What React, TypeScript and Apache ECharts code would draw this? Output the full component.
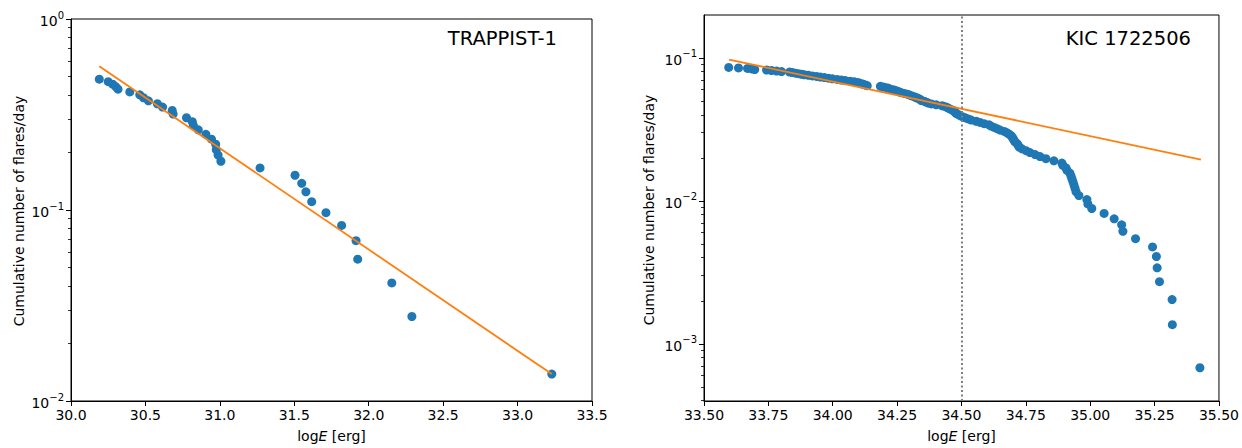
import React, { useEffect, useRef } from "react";
import * as echarts from "echarts";

// ---------- data ----------
const leftX = [
  30.19, 30.25, 30.28, 30.3, 30.316, 30.395, 30.462, 30.487, 30.52, 30.58,
  30.615, 30.68, 30.686, 30.776, 30.815, 30.822, 30.855, 30.906, 30.944, 30.972,
  30.976, 30.988, 31.007, 31.27, 31.505, 31.55, 31.578, 31.617, 31.713, 31.818,
  31.915, 31.926, 32.155, 32.29, 33.23,
];
const leftY = [
  0.484, 0.47, 0.456, 0.443, 0.429, 0.415, 0.401, 0.387, 0.373, 0.36,
  0.346, 0.332, 0.318, 0.304, 0.29, 0.277, 0.263, 0.249, 0.235, 0.221,
  0.207, 0.194, 0.18, 0.166, 0.152, 0.138, 0.1245, 0.1106, 0.0968, 0.083,
  0.0691, 0.0553, 0.0415, 0.0277, 0.01383,
];
const leftFitX = [30.19, 33.23];
const leftFitY = [0.566, 0.01383];

const rightX = [
  33.596, 33.634, 33.669, 33.685, 33.697, 33.743, 33.762, 33.782, 33.801, 33.832,
  33.844, 33.855, 33.867, 33.879, 33.89, 33.906, 33.921, 33.937, 33.952, 33.968,
  33.983, 33.999, 34.017, 34.033, 34.049, 34.068, 34.084, 34.096, 34.104, 34.111,
  34.119, 34.127, 34.134, 34.185, 34.196, 34.208, 34.216, 34.223, 34.235, 34.243,
  34.251, 34.259, 34.266, 34.278, 34.29, 34.297, 34.305, 34.313, 34.321, 34.328,
  34.336, 34.34, 34.344, 34.356, 34.363, 34.371, 34.383, 34.402, 34.425, 34.437,
  34.445, 34.452, 34.46, 34.468, 34.472, 34.476, 34.48, 34.488, 34.495, 34.503,
  34.515, 34.526, 34.538, 34.557, 34.572, 34.588, 34.607, 34.615, 34.627, 34.638,
  34.65, 34.666, 34.677, 34.685, 34.693, 34.697, 34.701, 34.704, 34.708, 34.716,
  34.72, 34.724, 34.735, 34.751, 34.766, 34.786, 34.805, 34.828, 34.859, 34.89,
  34.894, 34.906, 34.91, 34.921, 34.925, 34.929, 34.933, 34.937, 34.941, 34.945,
  34.956, 34.987, 34.991, 35.006, 35.054, 35.093, 35.122, 35.127, 35.176, 35.242,
  35.257, 35.26, 35.269, 35.318, 35.319, 35.426,
];
const rightY = [
  0.08568, 0.085, 0.08432, 0.08364, 0.08296, 0.08228, 0.0816, 0.08092, 0.08024, 0.07956,
  0.07888, 0.0782, 0.07752, 0.07684, 0.07616, 0.07548, 0.0748, 0.07412, 0.07344, 0.07276,
  0.07208, 0.0714, 0.07072, 0.07004, 0.06936, 0.06868, 0.068, 0.06732, 0.06664, 0.06596,
  0.06528, 0.0646, 0.06392, 0.06324, 0.06256, 0.06188, 0.0612, 0.06052, 0.05984, 0.05916,
  0.05848, 0.0578, 0.05712, 0.05644, 0.05576, 0.05508, 0.0544, 0.05372, 0.05304, 0.05236,
  0.05168, 0.051, 0.05032, 0.04964, 0.04896, 0.04828, 0.0476, 0.04692, 0.04624, 0.04556,
  0.04488, 0.0442, 0.04352, 0.04284, 0.04216, 0.04148, 0.0408, 0.04012, 0.03944, 0.03876,
  0.03808, 0.0374, 0.03672, 0.03604, 0.03536, 0.03468, 0.034, 0.03332, 0.03264, 0.03196,
  0.03128, 0.0306, 0.02992, 0.02924, 0.02856, 0.02788, 0.0272, 0.02652, 0.02584, 0.02516,
  0.02448, 0.0238, 0.02312, 0.02244, 0.02176, 0.02108, 0.0204, 0.01972, 0.01904, 0.01836,
  0.01768, 0.017, 0.01632, 0.01564, 0.01496, 0.01428, 0.0136, 0.01292, 0.01224, 0.01156,
  0.01088, 0.0102, 0.00952, 0.00884, 0.00816, 0.00748, 0.0068, 0.00612, 0.00544, 0.00476,
  0.00408, 0.0034, 0.00272, 0.00204, 0.00136, 0.00068,
];
const rightFitX = [33.597, 35.43];
const rightFitY = [0.0973, 0.01945];
const thresholdX = 34.5;

const leftYMajor = [0.01, 0.1, 1];
const leftYMinor = [
  0.02, 0.03, 0.04, 0.05, 0.06, 0.07, 0.08, 0.09,
  0.2, 0.3, 0.4, 0.5, 0.6, 0.7, 0.8, 0.9,
];
const rightYMajor = [0.001, 0.01, 0.1];
const rightYMinor = [
  0.0004, 0.0005, 0.0006, 0.0007, 0.0008, 0.0009,
  0.002, 0.003, 0.004, 0.005, 0.006, 0.007, 0.008, 0.009,
  0.02, 0.03, 0.04, 0.05, 0.06, 0.07, 0.08, 0.09,
];

const titles = ["TRAPPIST-1", "KIC 1722506"];
const yLabel = "Cumulative number of flares/day";

// ---------- styles ----------
const FONT = "DejaVu Sans";
const BLUE = "#1f77b4";
const ORANGE = "#ff7f0e";
const FS = 14;

const supRich = {
  b: { fontSize: FS, color: "#000", fontFamily: FONT, padding: [4, 0, 0, 0] },
  s: { fontSize: 10, color: "#000", fontFamily: FONT, verticalAlign: "top" },
};
const supFmt = (v: number) => {
  const e = Math.round(Math.log10(v));
  const t = e < 0 ? "\u2212" + String(-e) : String(e);
  return "{b|10}{s|" + t + "}";
};
const xName = "{n|log}{i|E}{n| [erg]}";
const xNameStyle = {
  rich: {
    n: { fontSize: FS, color: "#000", fontFamily: FONT },
    i: { fontSize: FS, color: "#000", fontFamily: FONT, fontStyle: "italic" },
  },
};

function xAxisCfg(gridIndex: number, min: number, max: number, interval: number, digits: number) {
  return {
    gridIndex,
    type: "value",
    min,
    max,
    interval,
    axisLine: { show: true, onZero: false, lineStyle: { color: "#000", width: 1 } },
    axisTick: { show: true, length: 5, lineStyle: { color: "#000", width: 1 } },
    axisLabel: {
      color: "#000",
      fontSize: FS,
      fontFamily: FONT,
      margin: 7,
      formatter: (v: number) => v.toFixed(digits),
    },
    splitLine: { show: false },
    name: xName,
    nameLocation: "middle",
    nameGap: 28,
    nameTextStyle: xNameStyle,
  };
}

function yMajorCfg(gridIndex: number, min: number, max: number, ticks: number[]) {
  return {
    gridIndex,
    type: "log",
    logBase: 10,
    min,
    max,
    position: "left",
    axisLine: { show: true, onZero: false, lineStyle: { color: "#000", width: 1 } },
    axisTick: { show: true, length: 5, customValues: ticks, lineStyle: { color: "#000", width: 1 } },
    axisLabel: {
      show: true,
      customValues: ticks,
      margin: 7,
      formatter: supFmt,
      rich: supRich,
    },
    splitLine: { show: false },
    minorTick: { show: false },
  };
}

function yMinorCfg(gridIndex: number, min: number, max: number, ticks: number[]) {
  return {
    gridIndex,
    type: "log",
    logBase: 10,
    min,
    max,
    position: "left",
    axisLine: { show: false },
    axisTick: { show: true, length: 3, customValues: ticks, lineStyle: { color: "#000", width: 0.8 } },
    axisLabel: { show: false },
    splitLine: { show: false },
  };
}

const zip = (a: number[], b: number[]) => a.map((v, i) => [v, b[i]]);

const titleFont = '19.5px "DejaVu Sans"';
const labelFont = '14px "DejaVu Sans"';

export default function App() {
  const ref = useRef<HTMLDivElement>(null);
  useEffect(() => {
    if (!ref.current) return;
    const chart = echarts.init(ref.current, null, { renderer: "svg" });
    const option: any = {
      animation: false,
      backgroundColor: "#fff",
      textStyle: { fontFamily: FONT },
      grid: [
        { left: 71, top: 19, width: 521, height: 385, show: true, borderColor: "#000", borderWidth: 1, backgroundColor: "transparent" },
        { left: 704, top: 15, width: 516, height: 390, show: true, borderColor: "#000", borderWidth: 1, backgroundColor: "transparent" },
      ],
      xAxis: [xAxisCfg(0, 30, 33.5, 0.5, 1), xAxisCfg(1, 33.5, 35.5, 0.25, 2)],
      yAxis: [
        yMajorCfg(0, 0.01, 1, leftYMajor),
        yMinorCfg(0, 0.01, 1, leftYMinor),
        yMajorCfg(1, 0.000398, 0.1995, rightYMajor),
        yMinorCfg(1, 0.000398, 0.1995, rightYMinor),
      ],
      series: [
        {
          type: "scatter",
          xAxisIndex: 0,
          yAxisIndex: 0,
          data: zip(leftX, leftY),
          symbolSize: 9,
          itemStyle: { color: BLUE, opacity: 1 },
          z: 2,
        },
        {
          type: "line",
          xAxisIndex: 0,
          yAxisIndex: 0,
          data: zip(leftFitX, leftFitY),
          showSymbol: false,
          symbol: "none",
          lineStyle: { color: ORANGE, width: 1.8 },
          z: 3,
        },
        {
          type: "scatter",
          xAxisIndex: 1,
          yAxisIndex: 2,
          data: zip(rightX, rightY),
          symbolSize: 9,
          itemStyle: { color: BLUE, opacity: 1 },
          z: 2,
        },
        {
          type: "line",
          xAxisIndex: 1,
          yAxisIndex: 2,
          data: zip(rightFitX, rightFitY),
          showSymbol: false,
          symbol: "none",
          lineStyle: { color: ORANGE, width: 1.8 },
          z: 3,
          markLine: {
            silent: true,
            symbol: ["none", "none"],
            label: { show: false },
            lineStyle: { color: "#7f7f7f", width: 2, type: [2, 2.5] },
            data: [{ xAxis: thresholdX }],
            z: 4,
          },
        },
      ],
      graphic: [
        {
          type: "text",
          right: 1242 - 557,
          top: 28,
          style: { text: titles[0], font: titleFont, fill: "#000" },
        },
        {
          type: "text",
          right: 1242 - 1191,
          top: 28,
          style: { text: titles[1], font: titleFont, fill: "#000" },
        },
        {
          type: "text",
          x: 19,
          y: 211,
          rotation: Math.PI / 2,
          style: {
            text: yLabel,
            font: labelFont,
            fill: "#000",
            align: "center",
            verticalAlign: "middle",
            textAlign: "center",
            textVerticalAlign: "middle",
          },
        },
        {
          type: "text",
          x: 649,
          y: 210,
          rotation: Math.PI / 2,
          style: {
            text: yLabel,
            font: labelFont,
            fill: "#000",
            align: "center",
            verticalAlign: "middle",
            textAlign: "center",
            textVerticalAlign: "middle",
          },
        },
      ],
    };
    chart.setOption(option);
    return () => chart.dispose();
  }, []);
  return (
    <div
      ref={ref}
      style={{ position: "fixed", left: 0, top: 0, width: 1242, height: 448, background: "#fff" }}
    />
  );
}
